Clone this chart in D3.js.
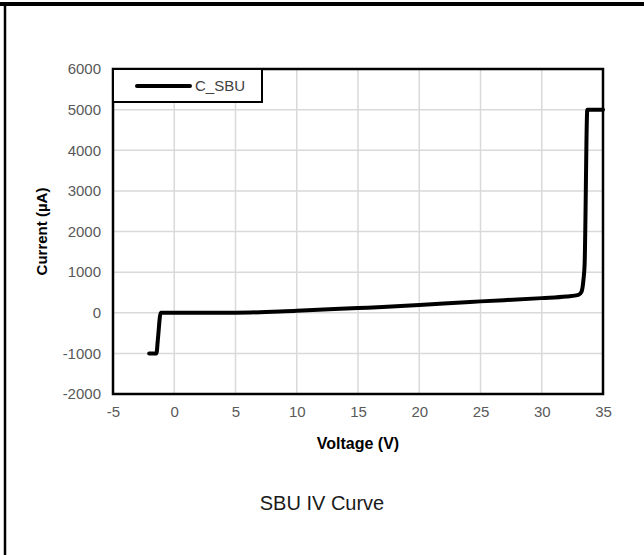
<!DOCTYPE html>
<html lang="en">
	<head>
		<meta charset="utf-8">
		<title>SBU IV Curve</title>
		<script type="text/javascript" src="https://cdn.jsdelivr.net/npm/d3@7"></script>
		<style type="text/css">
			body { margin: 0; background: #fff; }
			text { font-family: "Liberation Sans", Arial, sans-serif; }
		</style>
	</head>
	<body>
		<script type="text/javascript">

			//Chart data
			var seriesName = "C_SBU";
			var voltage = [-2.05, -1.45, -1.35, -1.1, 0, 5, 10, 15, 17, 20, 22, 25, 30, 32, 33, 33.25, 33.4, 33.5, 33.72, 35];
			var current = [-1000, -1000, -700, 0, 0, 0, 50, 115, 140, 190, 230, 280, 360, 400, 440, 520, 800, 1200, 5000, 5000];
			var xTicks = [-5, 0, 5, 10, 15, 20, 25, 30, 35];
			var yTicks = [-2000, -1000, 0, 1000, 2000, 3000, 4000, 5000, 6000];

			var w = 644;
			var h = 555;
			var plot = { left: 113, right: 603, top: 69, bottom: 394 };

			var svg = d3.select("body")
						.append("svg")
						.attr("width", w)
						.attr("height", h);

			//Outer chart frame (only top and left edges show)
			svg.append("line")
			   .attr("x1", 0).attr("x2", w)
			   .attr("y1", 4).attr("y2", 4)
			   .attr("stroke", "black")
			   .attr("stroke-width", 4);
			svg.append("line")
			   .attr("x1", 5).attr("x2", 5)
			   .attr("y1", 2).attr("y2", h)
			   .attr("stroke", "black")
			   .attr("stroke-width", 2.5);

			//Scales
			var xScale = d3.scaleLinear()
							.domain([-5, 35])
							.range([plot.left, plot.right]);
			var yScale = d3.scaleLinear()
							.domain([-2000, 6000])
							.range([plot.bottom, plot.top]);

			//Gridlines
			svg.append("g")
			   .selectAll("line")
			   .data(xTicks)
			   .enter()
			   .append("line")
			   .attr("x1", function(d) { return xScale(d); })
			   .attr("x2", function(d) { return xScale(d); })
			   .attr("y1", plot.top)
			   .attr("y2", plot.bottom)
			   .attr("stroke", "#d9d9d9")
			   .attr("stroke-width", 1.5);
			svg.append("g")
			   .selectAll("line")
			   .data(yTicks)
			   .enter()
			   .append("line")
			   .attr("x1", plot.left)
			   .attr("x2", plot.right)
			   .attr("y1", function(d) { return yScale(d); })
			   .attr("y2", function(d) { return yScale(d); })
			   .attr("stroke", "#d9d9d9")
			   .attr("stroke-width", 1.5);

			//Axes (tick labels only, plain numbers with hyphen minus)
			var plain = function(d) { return String(d); };
			var xAxis = d3.axisBottom(xScale).tickValues(xTicks).tickFormat(plain).tickSize(0).tickPadding(12);
			var yAxis = d3.axisLeft(yScale).tickValues(yTicks).tickFormat(plain).tickSize(0).tickPadding(12);

			var gx = svg.append("g")
						.attr("transform", "translate(0," + plot.bottom + ")")
						.call(xAxis);
			var gy = svg.append("g")
						.attr("transform", "translate(" + plot.left + ",0)")
						.call(yAxis);
			[gx, gy].forEach(function(g) {
				g.select(".domain").remove();
				g.selectAll("text")
				 .attr("font-family", "Liberation Sans, Arial, sans-serif")
				 .attr("font-size", "15px")
				 .attr("fill", "#595959");
			});

			//Plot border
			svg.append("rect")
			   .attr("x", plot.left)
			   .attr("y", plot.top)
			   .attr("width", plot.right - plot.left)
			   .attr("height", plot.bottom - plot.top)
			   .attr("fill", "none")
			   .attr("stroke", "black")
			   .attr("stroke-width", 2.5);

			//Curve
			var points = voltage.map(function(v, i) { return [v, current[i]]; });
			var line = d3.line()
						.x(function(d) { return xScale(d[0]); })
						.y(function(d) { return yScale(d[1]); })
						.curve(d3.curveMonotoneX);
			svg.append("path")
			   .datum(points)
			   .attr("d", line)
			   .attr("fill", "none")
			   .attr("stroke", "black")
			   .attr("stroke-width", 4)
			   .attr("stroke-linejoin", "round")
			   .attr("stroke-linecap", "round");

			//Legend
			var legend = svg.append("g");
			legend.append("rect")
				  .attr("x", plot.left)
				  .attr("y", plot.top)
				  .attr("width", 149)
				  .attr("height", 33)
				  .attr("fill", "white")
				  .attr("stroke", "black")
				  .attr("stroke-width", 2);
			legend.append("line")
				  .attr("x1", 137).attr("x2", 190)
				  .attr("y1", 86).attr("y2", 86)
				  .attr("stroke", "black")
				  .attr("stroke-width", 4)
				  .attr("stroke-linecap", "round");
			legend.append("text")
				  .attr("x", 195)
				  .attr("y", 91)
				  .attr("font-size", "15px")
				  .attr("fill", "#404040")
				  .text(seriesName);

			//Axis titles
			svg.append("text")
			   .attr("x", (plot.left + plot.right) / 2)
			   .attr("y", 449)
			   .attr("text-anchor", "middle")
			   .attr("font-size", "16px")
			   .attr("font-weight", "bold")
			   .text("Voltage (V)");
			svg.append("text")
			   .attr("transform", "translate(47," + (plot.top + plot.bottom) / 2 + ") rotate(-90)")
			   .attr("text-anchor", "middle")
			   .attr("font-size", "15px")
			   .attr("font-weight", "bold")
			   .text("Current (µA)");

			//Chart title (below the plot)
			svg.append("text")
			   .attr("x", 322)
			   .attr("y", 510)
			   .attr("text-anchor", "middle")
			   .attr("font-size", "20px")
			   .attr("fill", "#1a1a1a")
			   .text("SBU IV Curve");

		</script>
	</body>
</html>
